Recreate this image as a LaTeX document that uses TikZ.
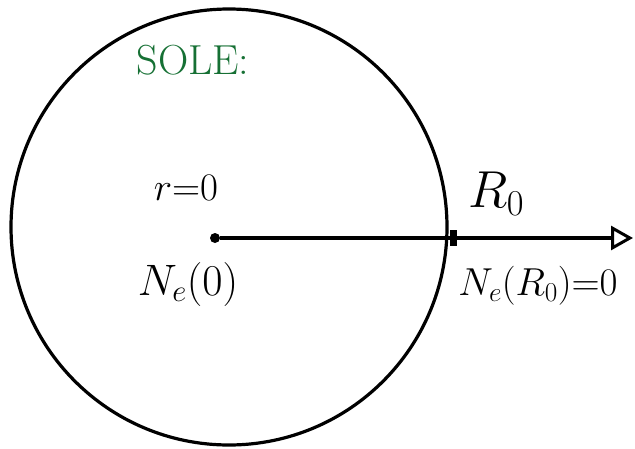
\RequirePackage{fix-cm}
\documentclass[tikz,border=0pt]{standalone}
\usepackage{amsmath}
\usepackage{tikz}
\usetikzlibrary{arrows.meta,positioning}
\definecolor{solgreen}{RGB}{22,112,52}
\tikzset{
  sketch/.style={line width=3.2pt, black},
  small text/.style={font=\fontsize{39}{42}\selectfont},
  mid text/.style={font=\fontsize{42}{46}\selectfont},
  big text/.style={font=\fontsize{52}{56}\selectfont},
}
\begin{document}
\begin{tikzpicture}[x=1pt, y=-1pt]
  \useasboundingbox (0,0) rectangle (635,448);
  \node[circle, draw, line width=3.2pt, minimum size=436pt, inner sep=0pt] (sun) at (229,227) {};
  \node[circle, fill, inner sep=0pt, minimum size=10pt] (o) at (215,238) {};
  \coordinate (tip) at (633,238);
  \node[fill, inner sep=0pt, minimum width=7pt, minimum height=16pt] (edge) at (453,238) {};
  \draw[sketch, -{Triangle[open, length=22pt, width=24pt, line width=3pt]}] (o) -- (tip);
  \node[mid text, text=solgreen] (title) at (193,60) {SOLE:};
  \node[small text] (r0) at (186,188) {$r{=}0$};
  \node[big text, font=\fontsize{44}{48}\selectfont] (n0) at (188,284) {$N_e(0)$};
  \node[big text] (R0) at (496,194) {$R_0$};
  \node[small text] (nR) at (538,286) {$N_e(R_0){=}0$};
\end{tikzpicture}
\end{document}
